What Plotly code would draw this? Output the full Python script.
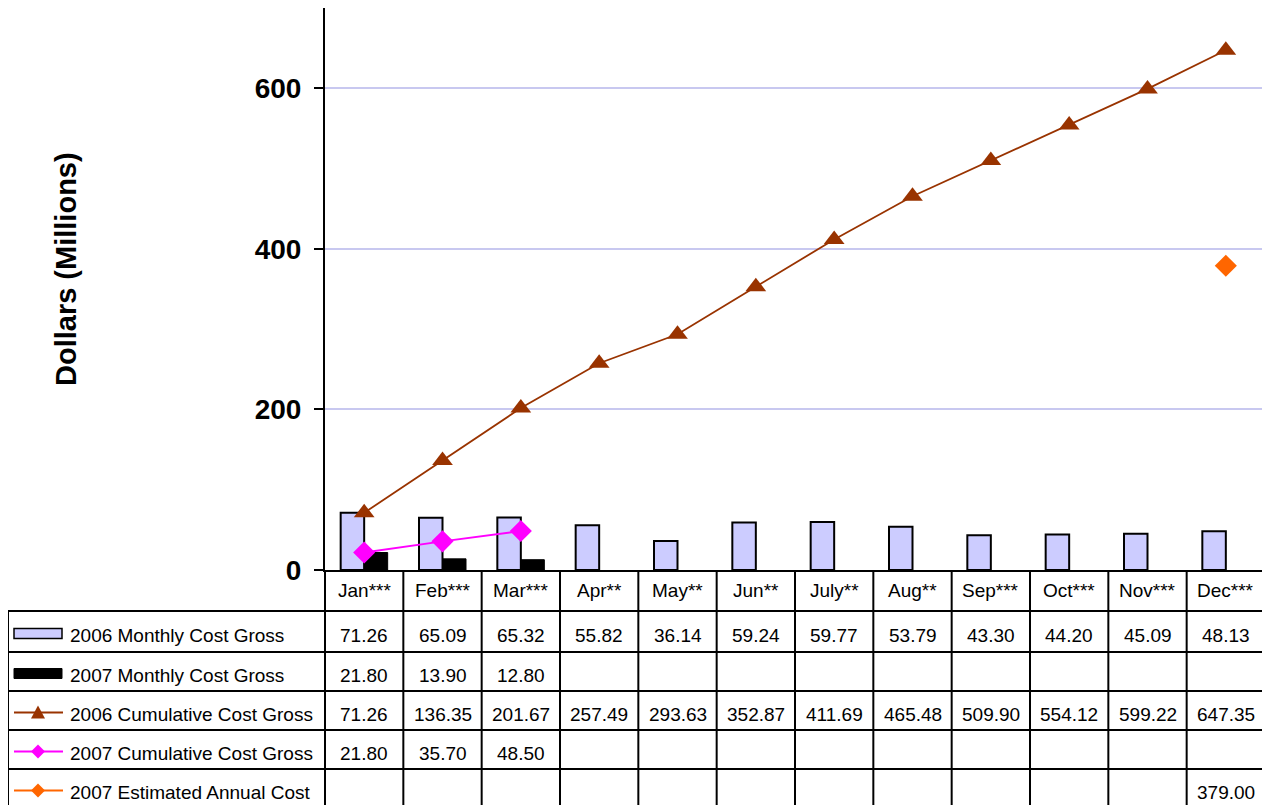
import plotly.graph_objects as go

# ---------------- data ----------------
months = ["Jan***", "Feb***", "Mar***", "Apr**", "May**", "Jun**",
          "July**", "Aug**", "Sep***", "Oct***", "Nov***", "Dec***"]
monthly_2006 = [71.26, 65.09, 65.32, 55.82, 36.14, 59.24, 59.77, 53.79, 43.30, 44.20, 45.09, 48.13]
monthly_2007 = [21.80, 13.90, 12.80]
cumulative_2006 = [71.26, 136.35, 201.67, 257.49, 293.63, 352.87, 411.69, 465.48, 509.90, 554.12, 599.22, 647.35]
cumulative_2007 = [21.80, 35.70, 48.50]
estimated_2007 = [None] * 11 + [379.00]
series_names = ["2006 Monthly Cost Gross", "2007 Monthly Cost Gross",
                "2006 Cumulative Cost Gross", "2007 Cumulative Cost Gross",
                "2007 Estimated Annual Cost"]
y_ticks = [0, 200, 400, 600]

# ---------------- styling ----------------
FONT = "Liberation Sans, Arial, sans-serif"
C_BAR06 = "#CCCCFF"
C_BAR07 = "#000000"
C_CUM06 = "#993300"
C_CUM07 = "#FF00FF"
C_EST = "#FF6600"

OFF = 8                      # page body margin
W, H = 1270 - OFF, 805 - OFF
L, R, T, B = 325, 1265, 8, 570   # plot area in window pixels
TABLE_LEFT = 8


def px(x):
    return (x - L) / (R - L)


def py(y):
    return (B - y) / (B - T)


xs = list(range(len(months)))

fig = go.Figure()
fig.add_trace(go.Bar(x=xs, y=monthly_2006, name=series_names[0],
                     marker=dict(color=C_BAR06, line=dict(color="black", width=2))))
fig.add_trace(go.Bar(x=xs[:len(monthly_2007)], y=monthly_2007, name=series_names[1],
                     marker=dict(color=C_BAR07, line=dict(color="black", width=1))))
fig.add_trace(go.Scatter(x=xs, y=cumulative_2006, name=series_names[2], mode="lines+markers",
                         line=dict(color=C_CUM06, width=1.8),
                         marker=dict(symbol="triangle-up", size=18, color=C_CUM06)))
fig.add_trace(go.Scatter(x=xs[:len(cumulative_2007)], y=cumulative_2007, name=series_names[3],
                         mode="lines+markers", line=dict(color=C_CUM07, width=1.8),
                         marker=dict(symbol="diamond", size=17, color=C_CUM07)))
fig.add_trace(go.Scatter(x=xs, y=estimated_2007, name=series_names[4], mode="lines+markers",
                         line=dict(color=C_EST, width=1.8),
                         marker=dict(symbol="diamond", size=17, color=C_EST)))

shapes = []
annotations = []
LW = 2

# table geometry
header = (B, 611)
rows = [(611, 652), (652, 691), (691, 730), (730, 769), (769, 808)]
col_w = (R - L) / len(months)

for (top, bot) in rows:
    shapes.append(dict(type="line", xref="paper", yref="paper",
                       x0=px(TABLE_LEFT), x1=px(R), y0=py(top), y1=py(top),
                       line=dict(color="black", width=LW)))
shapes.append(dict(type="line", xref="paper", yref="paper",
                   x0=px(TABLE_LEFT), x1=px(TABLE_LEFT), y0=py(611), y1=py(815),
                   line=dict(color="black", width=LW)))
shapes.append(dict(type="line", xref="paper", yref="paper",
                   x0=px(L), x1=px(L), y0=py(B), y1=py(815),
                   line=dict(color="black", width=LW)))
for i in range(1, len(months) + 1):
    xx = L + i * col_w
    shapes.append(dict(type="line", xref="paper", yref="paper",
                       x0=px(xx), x1=px(xx), y0=py(B), y1=py(815),
                       line=dict(color="black", width=LW)))

TFS = 19
hc = (header[0] + header[1]) / 2
for i, m in enumerate(months):
    annotations.append(dict(x=i, xref="x", y=py(hc), yref="paper", text=m, showarrow=False,
                            xanchor="center", yanchor="middle",
                            font=dict(family=FONT, size=TFS, color="black")))

table_values = [monthly_2006, monthly_2007, cumulative_2006, cumulative_2007, estimated_2007]
for r, (vals, (top, bot)) in enumerate(zip(table_values, rows)):
    cy = (top + bot) / 2 + 3.5
    annotations.append(dict(x=px(68), xref="paper", y=py(cy), yref="paper", text=series_names[r],
                            showarrow=False, xanchor="left", yanchor="middle",
                            font=dict(family=FONT, size=TFS, color="black")))
    for i, v in enumerate(vals):
        if v is None:
            continue
        annotations.append(dict(x=i, xref="x", y=py(cy), yref="paper", text=f"{v:.2f}",
                                showarrow=False, xanchor="center", yanchor="middle",
                                font=dict(family=FONT, size=TFS, color="black")))

# legend keys inside the table
kx0, kx1, kxm = 14, 62, 38


def rect_key(cy, fill, lw):
    shapes.append(dict(type="rect", xref="paper", yref="paper",
                       x0=px(kx0), x1=px(kx1), y0=py(cy - 5), y1=py(cy + 5),
                       fillcolor=fill, line=dict(color="black", width=lw)))


def line_key(cy, color, symbol):
    shapes.append(dict(type="line", xref="paper", yref="paper",
                       x0=px(kx0), x1=px(kx1 + 1), y0=py(cy), y1=py(cy),
                       line=dict(color=color, width=1.8)))
    if symbol == "triangle":
        pts = [(kxm, cy - 7), (kxm + 7, cy + 6), (kxm - 7, cy + 6)]
    else:
        pts = [(kxm, cy - 7), (kxm + 7, cy), (kxm, cy + 7), (kxm - 7, cy)]
    path = "M " + " L ".join(f"{px(a)},{py(b)}" for a, b in pts) + " Z"
    shapes.append(dict(type="path", xref="paper", yref="paper", path=path,
                       fillcolor=color, line=dict(color=color, width=0)))


centers = [(t + b) / 2 + 2 for t, b in rows]
rect_key(centers[0], C_BAR06, 1.5)
rect_key(centers[1], C_BAR07, 1)
line_key(centers[2], C_CUM06, "triangle")
line_key(centers[3], C_CUM07, "diamond")
line_key(centers[4], C_EST, "diamond")

annotations.append(dict(x=px(66), xref="paper", y=py(269), yref="paper",
                        text="<b>Dollars (Millions)</b>", textangle=-90, showarrow=False,
                        xanchor="center", yanchor="middle",
                        font=dict(family=FONT, size=29, color="black")))

fig.update_layout(
    width=W, height=H,
    margin=dict(l=L - OFF, r=(1270 - R), t=T - OFF, b=(805 - B), pad=0),
    paper_bgcolor="white", plot_bgcolor="white",
    showlegend=False,
    barmode="group", bargap=0.4, bargroupgap=0,
    xaxis=dict(range=[-0.5, len(months) - 0.5], showticklabels=False, showgrid=False,
               zeroline=False, showline=True, linecolor="black", linewidth=2, ticks=""),
    yaxis=dict(range=[0, 700], tickvals=y_ticks, ticks="outside", ticklen=9, tickwidth=2,
               tickcolor="black", showline=True, linecolor="black", linewidth=2,
               showgrid=True, gridcolor="#C8C8F0", gridwidth=1.5, zeroline=False,
               ticklabelstandoff=7,
               tickfont=dict(family=FONT, size=28, color="black", weight="bold")),
    shapes=shapes, annotations=annotations,
)

fig.write_html("out.html")
